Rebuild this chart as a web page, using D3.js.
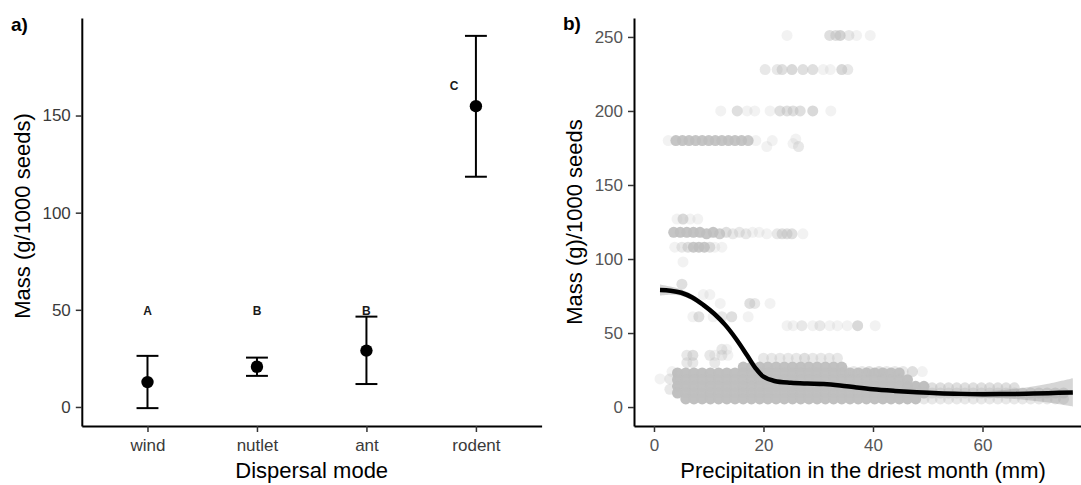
<!DOCTYPE html>
<html>
<head>
<meta charset="utf-8">
<script src="https://cdn.jsdelivr.net/npm/d3@7"></script>
<style>
  body { margin: 0; background: #fff; }
  svg text { font-family: "Liberation Sans", Arial, sans-serif; }
</style>
</head>
<body>
<div id="chart"></div>
<script>
/* ---- Panel a: seed mass by dispersal mode ---- */
var modes = ["wind", "nutlet", "ant", "rodent"];
var meanMass = [12.8, 20.7, 29.0, 154.8];
var lowerMass = [-0.6, 16.0, 11.8, 118.5];
var upperMass = [26.3, 25.4, 46.5, 191.0];
var groupLetters = ["A", "B", "B", "C"];
var letterMass = [49.4, 49.4, 49.4, 165.4];
var letterShift = [0, 0, 0, -0.2];   // in category steps
var ticksA = [0, 50, 100, 150];

/* ---- Panel b: seed mass vs precipitation ---- */
// scattered observations: [precip, mass, number of overlapping obs]
var sparsePoints = [
  [24.3,251,1],[32.1,251,3],[33.2,251,3],[34.0,251,5],[35.6,251,2],[37.0,251,1],[39.5,251,1],
  [20.3,228,2],[22.5,228,2],[23.4,228,3],[25.2,228,4],[27.2,228,3],[29.0,228,3],[30.9,228,1],[32.2,228,1],[34.3,228,4],[35.4,228,2],
  [12.2,200,1],[15.2,200,3],[17.0,200,1],[18.4,200,1],[21.2,200,1],[23.0,200,3],[24.3,200,3],[25.4,200,3],[26.7,200,3],[29.0,200,4],[32.3,200,1],
  [2.6,180,1],[4.0,180,10],[5.2,180,10],[6.4,180,10],[7.6,180,10],[8.8,180,10],[10.0,180,10],[11.2,180,10],[12.4,180,10],[13.6,180,10],[14.8,180,10],[16.0,180,10],[17.2,180,8],[18.6,180,1],
  [20.6,176,1],[21.6,180,1],[25.4,178,1],[26.4,176,2],[25.9,181,1],
  [4.2,127,1],[5.3,127,4],[6.6,127,1],[8.0,127,1],
  [3.6,118,10],[4.8,118,12],[6.0,118,12],[7.2,118,12],[8.4,118,12],[9.6,117,10],[10.8,118,10],[12.0,117,6],[13.2,118,3],[14.4,117,2],[15.6,118,2],[16.8,117,2],[18.0,118,1],[19.2,118,1],
  [20.6,117,1],[22.5,117,2],[23.4,117,3],[24.3,117,3],[25.2,117,3],[27.2,117,1],
  [3.8,108,1],[5.1,108,2],[6.2,108,3],[7.2,108,8],[8.2,108,8],[9.2,108,8],[10.2,108,3],[11.1,108,1],[12.4,108,1],
  [5.3,98,1],[5.1,83,3],
  [9.0,76,1],[10.2,76,1],
  [12.1,70,1],[17.5,70,3],[18.4,70,2],[21.2,70,1],
  [7.1,61,1],[8.2,61,3],[10.8,61,1],[12.4,61,2],[14.2,61,3],[17.2,61,1],
  [24.3,55,1],[25.4,55,1],[27.0,55,2],[29.0,55,1],[30.3,55,2],[32.1,55,1],[33.5,55,1],[35.3,55,1],[37.2,55,4],[40.4,55,1],
  [12.4,39,2],[13.3,39,1],
  [6.0,35,2],[7.1,35,3],[10.2,35,2],[11.1,35,1],[12.4,35,2],[13.5,35,1],
  [6.0,30,2],[7.1,30,2],[11.1,30,2],
  [1.1,19,1],[2.9,19,2],[2.9,12,2],[3.3,24,1],
  [20.0,33,2],[21.5,33,2],[23.0,33,2],[24.5,33,2],[26.0,33,2],[27.5,33,3],[29.0,33,2],[30.5,33,2],[32.0,33,2],[33.5,33,2],
  [35.0,24,2],[36.5,24,2],[38.0,24,2],[39.3,24,3],[41.1,24,3],[42.5,24,2],[44.0,24,2],[45.5,24,2],[47.2,24,3],[49.0,24,1]
];

// the dense band near the bottom: precip positions and rows of [mass, from, to, n]
var bandPrecip = [4.3,5.8,7.3,8.8,10.3,11.8,13.3,14.8,16.3,17.8,19.3,20.8,22.3,23.8,25.3,26.8,28.3,29.8,31.3,32.8,34.3,
  35.8,37.3,38.8,40.3,41.8,43.3,44.8,46.3,47.8,49.3,50.8,52.3,53.8,55.3,56.8,58.3,59.8,61.3,62.8,64.3,65.8,67.3,68.8,70.3,71.8,73.3,74.8];
var bandRows = [
  [27, 15, 35, 14],
  [23, 4, 45, 16],
  [18.5, 4, 47, 16],
  [14, 4, 50, 16],
  [9.5, 4, 50, 16],
  [5.5, 5, 48, 16],
  [13, 45, 66, 3],
  [9.5, 50, 75, 3],
  [5.5, 48, 75, 2]
];

// loess fit and its standard error
var fitPrecip = [1.1, 3, 5, 7, 9, 11, 13, 15, 17, 18.5, 20, 22, 25, 28, 31, 34, 37, 40, 44, 48, 52, 56, 60, 64, 68, 72, 76.5];
var fitMass   = [79, 78.6, 77.2, 74, 69, 63, 55.5, 46, 35, 26.5, 20.5, 17.6, 16.4, 15.9, 15.6, 14.6, 13.2, 12.0, 10.9, 10.0, 9.3, 8.9, 8.7, 8.8, 9.0, 9.4, 9.9];
var fitSE     = [3.8, 2.8, 2.2, 2, 1.8, 1.6, 1.5, 1.5, 1.4, 1.3, 1.2, 1.1, 1, 1, 1, 1, 1, 1.1, 1.2, 1.4, 1.6, 1.8, 2.2, 2.8, 4.2, 6.3, 9.5];
var ticksBx = [0, 20, 40, 60];
var ticksBy = [0, 50, 100, 150, 200, 250];

/* ---- SVG ---- */
var W = 1081, H = 485;
var svg = d3.select("#chart").append("svg")
  .attr("width", W)
  .attr("height", H);
svg.append("rect").attr("width", W).attr("height", H).attr("fill", "#fff");

function styleAxis(g, color) {
  g.selectAll(".domain").attr("stroke", "#000").attr("stroke-width", 2);
  g.selectAll(".tick line").attr("stroke", "#333").attr("stroke-width", 1.5);
  g.selectAll(".tick text")
    .attr("fill", color)
    .attr("font-size", 17)
    .attr("font-family", "Liberation Sans, Arial, sans-serif");
}

/* ===== Panel a ===== */
var xA = d3.scalePoint().domain(modes).range([81.8, 541.6]).padding(0.6);
var yA = d3.scaleLinear().domain([-9.8, 200.2]).range([426, 18]);

var capHalf = 0.1 * xA.step();
var gA = svg.append("g");

modes.forEach(function(m, i) {
  var cx = xA(m);
  gA.append("line")
    .attr("x1", cx).attr("x2", cx)
    .attr("y1", yA(lowerMass[i])).attr("y2", yA(upperMass[i]))
    .attr("stroke", "#000").attr("stroke-width", 2);
  [lowerMass[i], upperMass[i]].forEach(function(v) {
    gA.append("line")
      .attr("x1", cx - capHalf).attr("x2", cx + capHalf)
      .attr("y1", yA(v)).attr("y2", yA(v))
      .attr("stroke", "#000").attr("stroke-width", 2);
  });
  gA.append("circle")
    .attr("cx", cx).attr("cy", yA(meanMass[i]))
    .attr("r", 6.2).attr("fill", "#000");
  gA.append("text")
    .attr("x", cx + letterShift[i] * xA.step())
    .attr("y", yA(letterMass[i]))
    .attr("dy", "0.36em")
    .attr("text-anchor", "middle")
    .attr("font-size", 12)
    .attr("font-weight", "bold")
    .attr("fill", "#1a1a1a")
    .text(groupLetters[i]);
});

var xAxisA = svg.append("g")
  .attr("transform", "translate(0,426)")
  .call(d3.axisBottom(xA).tickSize(6).tickSizeOuter(0).tickPadding(7));
styleAxis(xAxisA, "#3a3a3a");

var yAxisA = svg.append("g")
  .attr("transform", "translate(81.8,0)")
  .call(d3.axisLeft(yA).tickValues(ticksA).tickSize(6).tickSizeOuter(0).tickPadding(5));
styleAxis(yAxisA, "#3a3a3a");

svg.append("text")
  .attr("x", 311.7).attr("y", 478)
  .attr("text-anchor", "middle")
  .attr("font-size", 22)
  .text("Dispersal mode");

svg.append("text")
  .attr("transform", "translate(30,216) rotate(-90)")
  .attr("text-anchor", "middle")
  .attr("font-size", 22)
  .text("Mass (g/1000 seeds)");

svg.append("text")
  .attr("x", 11).attr("y", 31)
  .attr("font-size", 19)
  .attr("font-weight", "bold")
  .text("a)");

/* ===== Panel b ===== */
var xB = d3.scaleLinear().domain([-3.65, 77.99]).range([634, 1081]);
var yB = d3.scaleLinear().domain([-12.8, 262.8]).range([426, 18]);

var alpha = 0.2;
function opac(n) { return 1 - Math.pow(1 - alpha, n); }

var bandPoints = [];
bandRows.forEach(function(r) {
  bandPrecip.forEach(function(p) {
    if (p >= r[1] && p <= r[2]) bandPoints.push([p, r[0], r[3]]);
  });
});

var gB = svg.append("g");
gB.selectAll("circle.band")
  .data(bandPoints)
  .enter().append("circle")
    .attr("class", "band")
    .attr("cx", function(d) { return xB(d[0]); })
    .attr("cy", function(d) { return yB(d[1]); })
    .attr("r", 5.5)
    .attr("fill", "#bebebe")
    .attr("fill-opacity", function(d) { return opac(d[2]); });

gB.selectAll("circle.sparse")
  .data(sparsePoints)
  .enter().append("circle")
    .attr("class", "sparse")
    .attr("cx", function(d) { return xB(d[0]); })
    .attr("cy", function(d) { return yB(d[1]); })
    .attr("r", 5.5)
    .attr("fill", "#bebebe")
    .attr("fill-opacity", function(d) { return opac(d[2]); });

var fit = fitPrecip.map(function(p, i) { return { p: p, m: fitMass[i], se: fitSE[i] }; });

gB.append("path")
  .datum(fit)
  .attr("fill", "#999")
  .attr("fill-opacity", 0.4)
  .attr("d", d3.area()
    .x(function(d) { return xB(d.p); })
    .y0(function(d) { return yB(d.m - d.se); })
    .y1(function(d) { return yB(d.m + d.se); })
    .curve(d3.curveCatmullRom));

gB.append("path")
  .datum(fit)
  .attr("fill", "none")
  .attr("stroke", "#000")
  .attr("stroke-width", 4.5)
  .attr("d", d3.line()
    .x(function(d) { return xB(d.p); })
    .y(function(d) { return yB(d.m); })
    .curve(d3.curveCatmullRom));

var xAxisB = svg.append("g")
  .attr("transform", "translate(0,426)")
  .call(d3.axisBottom(xB).tickValues(ticksBx).tickSize(6).tickSizeOuter(0).tickPadding(7));
styleAxis(xAxisB, "#555");

var yAxisB = svg.append("g")
  .attr("transform", "translate(634,0)")
  .call(d3.axisLeft(yB).tickValues(ticksBy).tickSize(6).tickSizeOuter(0).tickPadding(5));
styleAxis(yAxisB, "#555");

svg.append("text")
  .attr("x", 863).attr("y", 478)
  .attr("text-anchor", "middle")
  .attr("font-size", 22)
  .text("Precipitation in the driest month (mm)");

svg.append("text")
  .attr("transform", "translate(582,222) rotate(-90)")
  .attr("text-anchor", "middle")
  .attr("font-size", 22)
  .text("Mass (g)/1000 seeds");

svg.append("text")
  .attr("x", 563).attr("y", 30)
  .attr("font-size", 19)
  .attr("font-weight", "bold")
  .text("b)");
</script>
</body>
</html>
